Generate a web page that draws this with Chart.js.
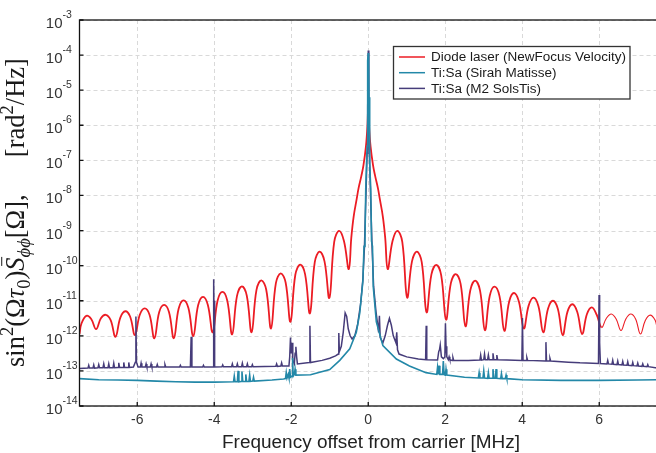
<!doctype html>
<html lang="en">
<head>
  <meta charset="UTF-8">
  <title>Phase noise spectra</title>
  <script src="https://cdnjs.cloudflare.com/ajax/libs/Chart.js/4.4.0/chart.umd.js"></script>
  <style>
    html, body { margin: 0; padding: 0; overflow: hidden; background: #fff; }
    canvas { display: block; }
  </style>
</head>
<body>
<canvas id="psd" width="658" height="453"></canvas>
<script>
  // frequency offset from carrier [MHz] and log10 of sin^2(..) S_phiphi [rad^2/Hz]
  const diodeFreq = [-7.5, -7.449, -7.323, -7.196, -7.07, -6.944, -6.818, -6.691, -6.565, -6.439,
    -6.312, -6.186, -6.06, -5.934, -5.807, -5.681, -5.555, -5.429, -5.302, -5.176,
    -5.05, -4.924, -4.797, -4.671, -4.545, -4.419, -4.292, -4.166, -4.04, -3.914,
    -3.787, -3.661, -3.535, -3.409, -3.282, -3.156, -3.03, -2.904, -2.777, -2.651,
    -2.525, -2.399, -2.272, -2.146, -2.02, -1.894, -1.767, -1.641, -1.515, -1.389,
    -1.262, -1.136, -1.01, -0.884, -0.757, -0.631, -0.505, -0.44, -0.379, -0.3,
    -0.2525, -0.18, -0.126, -0.06, -0.02, 0, 0.02, 0.06, 0.126, 0.18,
    0.2525, 0.3, 0.379, 0.44, 0.505, 0.631, 0.757, 0.884, 1.01, 1.136,
    1.262, 1.389, 1.515, 1.641, 1.767, 1.894, 2.02, 2.146, 2.272, 2.399,
    2.525, 2.651, 2.777, 2.904, 3.03, 3.156, 3.282, 3.409, 3.535, 3.661,
    3.787, 3.914, 4.04, 4.166, 4.292, 4.419, 4.545, 4.671, 4.797, 4.924,
    5.05, 5.176, 5.302, 5.429, 5.555, 5.681, 5.807, 5.934, 6.06, 6.186,
    6.312, 6.439, 6.565, 6.691, 6.818, 6.944, 7.07, 7.196, 7.323, 7.449, 7.5];
  const diodeLog = [-11.95, -11.65, -11.43, -11.52, -11.81, -11.50, -11.40, -11.55, -12.03, -11.48,
    -11.30, -11.45, -11.98, -11.40, -11.22, -11.40, -12.07, -11.32, -11.12, -11.32,
    -12.07, -11.22, -10.99, -11.21, -12.01, -11.13, -10.89, -11.12, -11.90, -11.00,
    -10.75, -11.00, -11.96, -10.86, -10.59, -10.85, -11.90, -10.70, -10.42, -10.68,
    -11.79, -10.50, -10.22, -10.48, -11.60, -10.26, -9.97, -10.24, -11.36, -9.90,
    -9.60, -9.88, -10.92, -9.32, -9.01, -9.30, -10.10, -9.2, -8.6, -8.1,
    -7.8, -7.45, -7.15, -6.6, -6.0, -5.4, -6.0, -6.6, -7.15, -7.45,
    -7.8, -8.1, -8.6, -9.2, -10.10, -9.30, -9.01, -9.32, -10.91, -9.88,
    -9.60, -9.90, -11.33, -10.25, -9.98, -10.27, -11.54, -10.50, -10.24, -10.52,
    -11.73, -10.70, -10.43, -10.71, -11.84, -10.86, -10.60, -10.87, -11.86, -11.02,
    -10.78, -11.03, -11.79, -11.14, -10.91, -11.15, -11.90, -11.22, -11.00, -11.23,
    -11.98, -11.31, -11.10, -11.32, -11.95, -11.38, -11.19, -11.40, -11.76, -11.50,
    -11.38, -11.52, -11.85, -11.52, -11.38, -11.52, -11.95, -11.56, -11.41, -11.55, -11.76];

  const sirahFreq = [-7.5, -7.0, -6.5, -6.0, -5.5, -5.0, -4.5, -4.0, -3.5, -3.48,
    -3.46, -3.4, -3.38, -3.36, -3.3, -3.28, -3.26, -3.2, -3.18, -3.16,
    -3.1, -3.08, -3.06, -3.0, -2.98, -2.96, -2.5, -2.2, -2.15, -2.13,
    -2.11, -2.08, -2.06, -2.04, -2.02, -1.98, -1.965, -1.95, -1.92, -1.9,
    -1.88, -1.5, -1.0, -0.74, -0.48, -0.31, -0.22, -0.14, -0.11, -0.085,
    -0.065, -0.045, -0.03, -0.02, -0.01, 0, 0.01, 0.02, 0.03, 0.045,
    0.065, 0.085, 0.11, 0.13, 0.21, 0.38, 0.73, 1.07, 1.5, 1.78,
    1.8, 1.82, 1.84, 1.86, 1.93, 1.95, 1.97, 2.0, 2.02, 2.04,
    2.5, 2.86, 2.88, 2.9, 2.98, 3.0, 3.02, 3.1, 3.12, 3.14,
    3.22, 3.24, 3.26, 3.3, 3.32, 3.34, 3.44, 3.46, 3.48, 3.56,
    3.58, 3.6, 4.0, 5.0, 6.0, 7.0, 7.5];
  const sirahLog = [-13.22, -13.25, -13.26, -13.27, -13.29, -13.31, -13.32, -13.32, -13.31, -13.15,
    -13.31, -13.31, -13.0, -13.31, -13.30, -13.02, -13.30, -13.30, -13.1, -13.30,
    -13.30, -13.12, -13.30, -13.29, -13.18, -13.29, -13.26, -13.23, -13.22, -13.05,
    -13.2, -13.1, -13.2, -12.95, -13.18, -13.15, -12.63, -13.15, -13.1, -12.95,
    -13.12, -13.11, -12.96, -12.70, -12.37, -11.9, -11.35, -10.45, -9.45, -9.3,
    -7.8, -7.1, -6.6, -5.2, -4.15, -3.94, -4.15, -5.2, -6.6, -7.1,
    -7.8, -9.3, -9.45, -10.6, -11.6, -12.28, -12.66, -12.86, -13.05, -13.1,
    -12.9, -13.1, -12.85, -13.1, -13.1, -12.72, -13.1, -13.12, -12.95, -13.12,
    -13.18, -13.2, -13.05, -13.2, -13.2, -13.0, -13.2, -13.21, -13.05, -13.21,
    -13.21, -12.95, -13.21, -13.21, -12.95, -13.21, -13.22, -13.08, -13.22, -13.22,
    -13.12, -13.22, -13.25, -13.27, -13.27, -13.26, -13.25];

  const m2Freq = [-7.5, -7.28, -7.26, -7.24, -7.15, -7.13, -7.11, -7.02, -7.0, -6.98,
    -6.89, -6.87, -6.85, -6.76, -6.74, -6.72, -6.63, -6.61, -6.59, -6.5,
    -6.48, -6.46, -6.37, -6.35, -6.33, -6.24, -6.22, -6.2, -6.1, -6.05,
    -6.035, -6.02, -5.98, -5.92, -5.9, -5.88, -5.79, -5.77, -5.75, -5.66,
    -5.64, -5.62, -5.5, -5.48, -5.46, -5.3, -5.28, -5.26, -4.9, -4.88,
    -4.86, -4.62, -4.6, -4.58, -4.3, -4.28, -4.26, -4.03, -4.015, -4.005,
    -3.995, -3.985, -3.8, -3.78, -3.76, -3.55, -3.53, -3.51, -3.42, -3.4,
    -3.38, -3.29, -3.27, -3.25, -3.16, -3.14, -3.12, -3.03, -3.01, -2.99,
    -2.4, -2.38, -2.36, -2.27, -2.25, -2.23, -2.06, -2.04, -2.02, -2.0,
    -1.98, -1.96, -1.92, -1.9, -1.88, -1.86, -1.84, -1.53, -1.515, -1.5,
    -1.2, -1.0, -0.85, -0.78, -0.765, -0.75, -0.7, -0.65, -0.6, -0.56,
    -0.52, -0.47, -0.42, -0.35, -0.28, -0.2, -0.14, -0.1, -0.06, -0.03,
    -0.015, 0, 0.015, 0.03, 0.06, 0.1, 0.14, 0.2, 0.27, 0.29,
    0.31, 0.38, 0.44, 0.5, 0.55, 0.6, 0.65, 0.72, 0.74, 0.76,
    0.8, 1.0, 1.3, 1.49, 1.505, 1.52, 1.8, 1.83, 1.85, 1.87,
    1.9, 1.95, 1.99, 2.005, 2.02, 2.04, 2.08, 2.1, 2.12, 2.18,
    2.2, 2.22, 2.6, 2.9, 2.92, 2.94, 3.0, 3.02, 3.04, 3.1,
    3.12, 3.14, 3.22, 3.24, 3.26, 3.32, 3.34, 3.36, 3.6, 3.99,
    4.005, 4.02, 4.1, 4.12, 4.14, 4.6, 4.615, 4.63, 4.7, 4.72,
    4.74, 5.2, 5.5, 5.98, 5.995, 6.005, 6.015, 6.03, 6.2, 6.22,
    6.24, 6.33, 6.35, 6.37, 6.46, 6.48, 6.5, 6.59, 6.61, 6.63,
    6.72, 6.74, 6.76, 6.85, 6.87, 6.89, 6.98, 7.0, 7.02, 7.11,
    7.13, 7.15, 7.24, 7.26, 7.28, 7.5];
  const m2Log = [-12.93, -12.92, -12.84, -12.92, -12.92, -12.83, -12.92, -12.91, -12.82, -12.91,
    -12.91, -12.80, -12.91, -12.91, -12.80, -12.91, -12.91, -12.78, -12.91, -12.90,
    -12.77, -12.90, -12.90, -12.76, -12.90, -12.90, -12.76, -12.90, -12.89, -12.75,
    -11.45, -12.75, -12.89, -12.89, -12.78, -12.89, -12.89, -12.80, -12.89, -12.89,
    -12.80, -12.89, -12.89, -12.82, -12.89, -12.89, -12.82, -12.89, -12.89, -12.84,
    -12.89, -12.89, -12.03, -12.89, -12.89, -12.84, -12.89, -12.89, -10.39, -11.5,
    -11.0, -12.89, -12.88, -12.83, -12.88, -12.88, -12.80, -12.88, -12.88, -12.80,
    -12.88, -12.88, -12.78, -12.88, -12.88, -12.80, -12.88, -12.88, -12.82, -12.88,
    -12.87, -12.80, -12.87, -12.86, -12.77, -12.86, -12.86, -12.6, -12.05, -12.5,
    -12.2, -12.7, -12.8, -12.5, -12.31, -12.6, -12.8, -12.76, -11.71, -12.76,
    -12.70, -12.64, -12.57, -12.52, -11.92, -12.45, -12.3, -11.9, -11.35, -11.45,
    -11.8, -12.0, -12.09, -12.0, -11.7, -11.1, -10.4, -9.5, -8.0, -6.8,
    -5.5, -3.87, -5.5, -6.8, -8.0, -9.5, -10.6, -11.3, -11.9, -11.43,
    -12.05, -12.2, -12.0, -11.7, -11.5, -11.7, -12.0, -12.2, -11.9, -12.4,
    -12.52, -12.60, -12.66, -12.68, -11.71, -12.68, -12.69, -12.45, -12.4, -12.26,
    -12.6, -12.65, -12.6, -11.64, -12.3, -12.6, -12.68, -12.6, -12.68, -12.70,
    -12.62, -12.70, -12.70, -12.69, -12.55, -12.69, -12.68, -12.52, -12.68, -12.68,
    -12.55, -12.68, -12.68, -12.50, -12.68, -12.68, -12.55, -12.68, -12.69, -12.70,
    -11.49, -12.70, -12.70, -12.62, -12.70, -12.72, -12.18, -12.72, -12.72, -12.64,
    -12.72, -12.75, -12.77, -12.79, -10.84, -12.0, -12.2, -12.79, -12.80, -12.70,
    -12.80, -12.81, -12.70, -12.81, -12.82, -12.72, -12.82, -12.83, -12.73, -12.83,
    -12.84, -12.74, -12.84, -12.85, -12.76, -12.85, -12.86, -12.78, -12.86, -12.87,
    -12.80, -12.87, -12.88, -12.82, -12.88, -12.92];

  const seriesNames = ['Diode laser (NewFocus Velocity)', 'Ti:Sa (Sirah Matisse)', 'Ti:Sa (M2 SolsTis)'];
  const freqTicks = [-6, -4, -2, 0, 2, 4, 6];
  const decadeExps = [-14, -13, -12, -11, -10, -9, -8, -7, -6, -5, -4, -3];

  const toPoints = (freq, logs) => freq.map((f, i) => ({ x: f, y: Math.pow(10, logs[i]) }));

  const sansFont = '"Liberation Sans", Arial, Helvetica, sans-serif';
  const serifFont = '"Liberation Serif", "Times New Roman", serif';

  // text squeezed/stretched horizontally to a given width
  function fillFit(ctx, text, x, y, width) {
    const w = ctx.measureText(text).width;
    ctx.save();
    ctx.translate(x, y);
    ctx.scale(width / w, 1);
    ctx.fillText(text, 0, 0);
    ctx.restore();
  }

  // rotated y-axis title, math-like with sub/superscripts
  function drawYTitle(ctx, baseX, bottomY, length) {
    const parts = [
      { t: 'sin', s: 1, dy: 0 },
      { t: '2', s: 0.7, dy: -0.42 },
      { t: '(Ω', s: 1, dy: 0 },
      { t: 'τ', s: 1, dy: 0, it: true },
      { t: '0', s: 0.7, dy: 0.22 },
      { t: ')', s: 1, dy: 0 },
      { t: 'S', s: 1, dy: 0, it: true, bar: true },
      { t: 'ϕϕ', s: 0.7, dy: 0.22, it: true },
      { t: '[Ω],', s: 1, dy: 0 },
      { gap: 1.4 },
      { t: '[rad', s: 1, dy: 0 },
      { t: '2', s: 0.7, dy: -0.42 },
      { t: '/Hz]', s: 1, dy: 0 }
    ];
    const fontFor = (p, size) => (p.it ? 'italic ' : '') + (size * p.s) + 'px ' + serifFont;
    const base = 20;
    let total = 0;
    parts.forEach(p => {
      if (p.gap) { total += p.gap * base; return; }
      ctx.font = fontFor(p, base);
      total += ctx.measureText(p.t).width;
    });
    const size = base * length / total;
    ctx.save();
    ctx.translate(baseX, bottomY);
    ctx.rotate(-Math.PI / 2);
    ctx.fillStyle = '#1a1a1a';
    ctx.strokeStyle = '#1a1a1a';
    ctx.textAlign = 'left';
    ctx.textBaseline = 'alphabetic';
    let x = 0;
    parts.forEach(p => {
      if (p.gap) { x += p.gap * size; return; }
      ctx.font = fontFor(p, size);
      const w = ctx.measureText(p.t).width;
      ctx.fillText(p.t, x, p.dy * size);
      if (p.bar) {
        ctx.lineWidth = 1;
        ctx.beginPath();
        ctx.moveTo(x + 0.18 * size, -0.84 * size);
        ctx.lineTo(x + w + 0.02 * size, -0.84 * size);
        ctx.stroke();
      }
      x += w;
    });
    ctx.restore();
  }

  const axesAndLabels = {
    id: 'axesAndLabels',
    beforeDatasetsDraw(chart) {
      const { ctx, chartArea: area, scales } = chart;
      ctx.save();
      ctx.strokeStyle = '#d9d9d9';
      ctx.lineWidth = 1;
      ctx.setLineDash([4, 3]);
      ctx.beginPath();
      freqTicks.forEach(v => {
        const px = Math.round(scales.x.getPixelForValue(v)) + 0.5;
        ctx.moveTo(px, area.top);
        ctx.lineTo(px, area.bottom);
      });
      decadeExps.forEach(e => {
        const py = Math.round(scales.y.getPixelForValue(Math.pow(10, e))) + 0.5;
        ctx.moveTo(area.left, py);
        ctx.lineTo(area.right, py);
      });
      ctx.stroke();
      ctx.restore();
    },
    afterDraw(chart) {
      const { ctx, chartArea: area, scales } = chart;
      ctx.save();

      // frame and inward ticks
      ctx.strokeStyle = '#111';
      ctx.lineWidth = 1.3;
      ctx.strokeRect(area.left, area.top, area.right - area.left, area.bottom - area.top);
      ctx.beginPath();
      freqTicks.forEach(v => {
        const px = scales.x.getPixelForValue(v);
        ctx.moveTo(px, area.bottom);
        ctx.lineTo(px, area.bottom - 4);
      });
      decadeExps.forEach(e => {
        const py = scales.y.getPixelForValue(Math.pow(10, e));
        ctx.moveTo(area.left, py);
        ctx.lineTo(area.left + 4, py);
      });
      ctx.stroke();

      // tick labels
      ctx.fillStyle = '#333';
      ctx.textBaseline = 'alphabetic';
      ctx.textAlign = 'center';
      ctx.font = '14px ' + sansFont;
      freqTicks.forEach(v => {
        ctx.fillText(String(v), scales.x.getPixelForValue(v), area.bottom + 18);
      });
      decadeExps.forEach(e => {
        const py = scales.y.getPixelForValue(Math.pow(10, e));
        ctx.textAlign = 'right';
        ctx.font = '15px ' + sansFont;
        ctx.fillText('10', area.left - 17, py + 8);
        ctx.textAlign = 'left';
        ctx.font = '10.5px ' + sansFont;
        ctx.fillText(String(e), area.left - 17, py - 2);
      });

      // x title
      ctx.fillStyle = '#222';
      ctx.textAlign = 'left';
      ctx.font = '18px ' + sansFont;
      fillFit(ctx, 'Frequency offset from carrier [MHz]', 222, 447.5, 298);

      // y title
      drawYTitle(ctx, 24, 367, 309);

      // legend
      const box = { x: 393.5, y: 46.5, w: 236.5, h: 52.5 };
      ctx.fillStyle = '#fff';
      ctx.fillRect(box.x, box.y, box.w, box.h);
      ctx.strokeStyle = '#333';
      ctx.lineWidth = 1.3;
      ctx.strokeRect(box.x, box.y, box.w, box.h);
      ctx.font = '12px ' + sansFont;
      const stretch = 195 / ctx.measureText(seriesNames[0]).width;
      chart.data.datasets.forEach((ds, i) => {
        const rowY = 57 + i * 15.7;
        ctx.strokeStyle = ds.borderColor;
        ctx.lineWidth = 1.5;
        ctx.beginPath();
        ctx.moveTo(399, rowY);
        ctx.lineTo(425, rowY);
        ctx.stroke();
        ctx.fillStyle = '#1a1a1a';
        const w = ctx.measureText(ds.label).width * stretch;
        fillFit(ctx, ds.label, 431, rowY + 4.3, w);
      });
      ctx.restore();
    }
  };

  const chart = new Chart(document.getElementById('psd'), {
    type: 'line',
    data: {
      datasets: [
        {
          label: seriesNames[0],
          data: toPoints(diodeFreq, diodeLog),
          borderColor: '#ec1c24',
          borderWidth: 1.8,
          tension: 0.4,
          order: 3,
          segment: {
            borderWidth: ctx => ctx.p0.parsed.x >= 6.05 ? 1.1 : 1.8
          }
        },
        {
          label: seriesNames[1],
          data: toPoints(sirahFreq, sirahLog),
          borderColor: '#2388a8',
          borderWidth: 1.6,
          tension: 0,
          order: 1
        },
        {
          label: seriesNames[2],
          data: toPoints(m2Freq, m2Log),
          borderColor: '#463c7a',
          borderWidth: 1.5,
          tension: 0,
          order: 2
        }
      ]
    },
    options: {
      responsive: false,
      animation: false,
      devicePixelRatio: 1,
      events: [],
      layout: { padding: { left: 79.5, right: 1, top: 20, bottom: 47 } },
      elements: { point: { radius: 0 } },
      plugins: { legend: { display: false }, tooltip: { enabled: false } },
      scales: {
        x: { type: 'linear', min: -7.5, max: 7.5, display: false },
        y: { type: 'logarithmic', min: 1e-14, max: 1e-3, display: false }
      }
    },
    plugins: [axesAndLabels]
  });
</script>
</body>
</html>
